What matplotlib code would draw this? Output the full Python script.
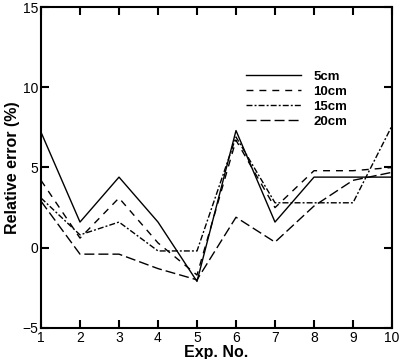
import matplotlib.pyplot as plt

plt.rcParams['font.family'] = ['Liberation Sans', 'DejaVu Sans']
plt.rcParams['lines.scale_dashes'] = False

# experiment numbers and relative error (%) for each depth
exp_no = [1, 2, 3, 4, 5, 6, 7, 8, 9, 10]
err_5cm = [7.2, 1.6, 4.4, 1.6, -2.1, 7.3, 1.6, 4.4, 4.4, 4.4]
err_10cm = [4.2, 0.6, 3.1, 0.3, -1.7, 6.7, 2.5, 4.8, 4.8, 5.0]
err_15cm = [3.1, 0.8, 1.6, -0.2, -0.2, 6.9, 2.8, 2.8, 2.8, 7.6]
err_20cm = [2.9, -0.4, -0.4, -1.3, -2.0, 1.9, 0.35, 2.6, 4.2, 4.7]

fig = plt.figure(figsize=(4, 3.59), dpi=100)
ax = fig.add_axes([0.1025, 0.0864, 0.8775, 0.8941])

lw = 1.0
ax.plot(exp_no, err_5cm, color="black", lw=lw, linestyle="-", label="5cm")
ax.plot(exp_no, err_10cm, color="black", lw=lw, linestyle=(0, (5, 4.3)), label="10cm")
ax.plot(exp_no, err_15cm, color="black", lw=lw, linestyle=(0, (4.3, 1.5, 1.4, 1.5)), label="15cm")
ax.plot(exp_no, err_20cm, color="black", lw=lw, linestyle=(0, (7.2, 2.9)), label="20cm")

ax.set_xlim(1, 10)
ax.set_ylim(-5, 15)
ax.set_xticks(exp_no)
ax.set_yticks([-5, 0, 5, 10, 15])

for s in ax.spines.values():
    s.set_linewidth(1.5)
ax.tick_params(direction="in", length=6, width=1.5, top=True, right=True,
               labelsize=10, pad=2)

ax.set_xlabel("Exp. No.", fontsize=11.5, fontweight="bold", labelpad=0)
ax.set_ylabel("Relative error (%)", fontsize=11.5, fontweight="bold", labelpad=2)

leg = ax.legend(loc="upper left", bbox_to_anchor=(0.55, 0.838), frameon=False,
                handlelength=4.2, handletextpad=0.9, labelspacing=0.2,
                prop={"size": 9.5, "weight": "bold"})

plt.savefig("out.png", dpi=100)
